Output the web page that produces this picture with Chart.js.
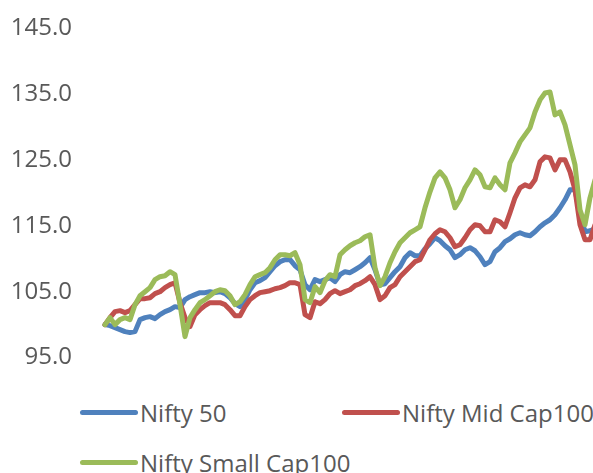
<!DOCTYPE html>
<html>
<head>
<meta charset="utf-8">
<script src="https://cdn.jsdelivr.net/npm/chart.js@4.4.1/dist/chart.umd.min.js"></script>
<style>
  html, body { margin: 0; padding: 0; background: #fff; overflow: hidden; }
  #wrap { position: absolute; left: 0; top: 0; width: 620px; height: 380px; }
  .legend { position: absolute; font-family: "Open Sans", "Noto Sans", sans-serif; font-size: 24px; color: #595959; }
  .item { position: absolute; display: flex; align-items: center; white-space: nowrap; height: 30px; }
  .swatch { width: 58px; height: 5px; border-radius: 3px; margin-right: 2px; }
</style>
</head>
<body>
<div id="wrap"><canvas id="chart" width="620" height="380"></canvas></div>
<div class="legend" id="legend"></div>
<script>
// Rebased index levels (start = 100) for the three NSE indices
const seriesNames = ["Nifty 50", "Nifty Mid Cap100", "Nifty Small Cap100"];
const seriesColors = ["#4F81BD", "#C0504D", "#9BBB59"];

const nifty50 = [
  100.0, 99.85, 99.55, 99.24, 98.94, 98.79, 98.94, 100.76, 101.06, 101.21,
  100.91, 101.52, 101.97, 102.27, 102.73, 102.58, 103.79, 104.24, 104.55, 104.85,
  104.85, 105.0, 104.85, 105.0, 104.7, 104.09, 103.18, 102.73, 103.79, 105.3,
  106.36, 106.67, 107.12, 108.03, 108.94, 109.55, 109.85, 109.85, 108.94, 108.33,
  106.06, 105.3, 106.82, 106.52, 106.82, 107.12, 106.52, 107.58, 108.03, 107.88,
  108.33, 108.79, 109.39, 110.15, 108.33, 106.06, 106.21, 107.12, 108.03, 108.79,
  110.15, 110.91, 110.45, 110.45, 111.52, 112.27, 113.18, 112.73, 111.97, 111.36,
  110.15, 110.61, 111.36, 111.67, 111.21, 110.3, 109.09, 109.55, 111.06, 111.67,
  112.58, 113.03, 113.64, 113.94, 113.64, 113.48, 114.09, 114.85, 115.45, 115.91,
  116.67, 117.73, 118.94, 120.45, 120.45, 116.67, 114.09, 114.24, 114.55, 115.0
];

const niftyMidCap100 = [
  100.0, 101.06, 101.97, 102.12, 101.82, 102.12, 103.03, 103.94, 103.94, 104.09,
  104.7, 105.0, 105.61, 106.06, 106.36, 103.33, 101.06, 99.7, 101.52, 102.27,
  102.88, 103.33, 103.33, 103.33, 103.03, 102.27, 101.36, 101.36, 102.73, 103.79,
  104.39, 104.85, 105.0, 105.15, 105.45, 105.61, 105.91, 106.36, 106.36, 106.06,
  101.52, 101.06, 103.48, 103.18, 103.79, 104.7, 105.15, 104.7, 105.0, 105.3,
  105.91, 106.21, 106.67, 107.27, 106.06, 103.79, 104.39, 105.61, 106.06, 107.27,
  108.03, 108.79, 109.55, 109.85, 111.36, 112.88, 113.79, 114.39, 114.09, 113.18,
  111.82, 112.12, 113.18, 114.39, 115.15, 115.0, 114.09, 114.09, 115.91, 115.61,
  114.85, 116.97, 119.24, 120.76, 121.21, 120.91, 121.97, 124.7, 125.45, 125.3,
  123.48, 125.0, 125.0, 123.18, 120.45, 115.15, 112.88, 112.88, 115.15, 116.67
];

const niftySmallCap100 = [
  100.0, 101.06, 100.0, 100.76, 101.06, 100.76, 103.03, 104.39, 105.0, 105.61,
  106.82, 107.27, 107.42, 108.03, 107.58, 103.03, 98.18, 101.06, 102.27, 103.33,
  103.79, 104.39, 105.0, 105.3, 105.15, 104.39, 103.03, 103.48, 104.55, 106.06,
  107.27, 107.58, 107.88, 108.64, 109.85, 110.61, 110.61, 110.45, 110.91, 109.09,
  103.79, 103.33, 105.76, 104.85, 106.67, 107.58, 107.27, 110.61, 111.36, 111.97,
  112.42, 112.73, 113.33, 113.64, 108.64, 105.91, 107.27, 109.39, 111.06, 112.42,
  113.18, 113.94, 114.39, 114.85, 117.73, 120.15, 122.27, 123.18, 122.27, 120.45,
  117.73, 118.94, 120.76, 121.97, 123.48, 122.73, 120.91, 120.76, 122.27, 121.21,
  120.45, 124.55, 126.06, 127.73, 128.79, 129.85, 132.27, 134.09, 135.15, 135.3,
  131.82, 132.27, 130.3, 127.27, 124.24, 117.42, 115.15, 119.24, 121.97, 123.48
];

const yTicks = [95, 105, 115, 125, 135, 145];

const seriesValues = [nifty50, niftyMidCap100, niftySmallCap100];
const toPoints = arr => arr.map((v, i) => ({ x: i, y: v }));

const datasets = seriesValues.map((vals, k) => ({
  label: seriesNames[k],
  data: toPoints(vals),
  borderColor: seriesColors[k],
  backgroundColor: seriesColors[k],
  borderWidth: 5,
  pointRadius: 0,
  tension: 0,
  borderJoinStyle: "round",
  borderCapStyle: "round",
  fill: false,
  order: 3 - k
}));

new Chart(document.getElementById("chart"), {
  type: "line",
  data: { datasets },
  options: {
    responsive: false,
    animation: false,
    layout: { padding: { top: 28, bottom: 22, left: 0, right: 0 } },
    plugins: { legend: { display: false }, tooltip: { enabled: false } },
    scales: {
      x: {
        type: "linear",
        display: false,
        min: -5,
        max: 103
      },
      y: {
        min: yTicks[0],
        max: yTicks[yTicks.length - 1],
        afterFit: s => { s.width = 80; },
        afterBuildTicks: s => { s.ticks = yTicks.map(v => ({ value: v })); },
        border: { display: false },
        grid: { display: false, drawTicks: false },
        ticks: {
          padding: 8,
          color: "#595959",
          font: { family: "'Open Sans', 'Noto Sans', sans-serif", size: 24 },
          callback: v => Number(v).toFixed(1)
        }
      }
    }
  }
});

// Legend laid out in two columns, two rows
const legendSlots = [
  { left: 80, top: 397 },
  { left: 342, top: 397 },
  { left: 80, top: 447 }
];
const legend = document.getElementById("legend");
seriesNames.forEach((name, k) => {
  const item = document.createElement("div");
  item.className = "item";
  item.style.left = legendSlots[k].left + "px";
  item.style.top = legendSlots[k].top + "px";
  const sw = document.createElement("span");
  sw.className = "swatch";
  sw.style.background = seriesColors[k];
  const tx = document.createElement("span");
  tx.textContent = name;
  item.appendChild(sw);
  item.appendChild(tx);
  legend.appendChild(item);
});
</script>
</body>
</html>
